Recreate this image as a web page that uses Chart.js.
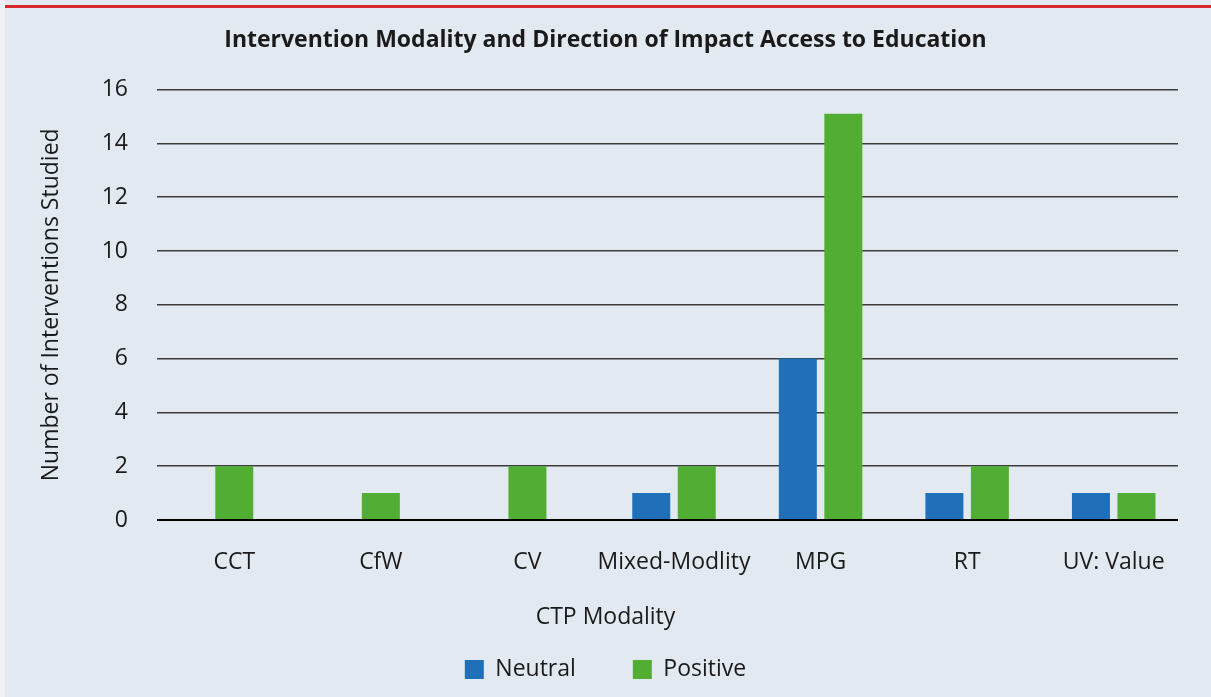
<!DOCTYPE html>
<html>
<head>
<meta charset="utf-8">
<script src="https://cdn.jsdelivr.net/npm/chart.js@4"></script>
<style>
  html, body { margin: 0; padding: 0; background: #e2e9f0; }
  #wrap { width: 1211px; height: 697px; position: relative; }
</style>
</head>
<body>
<div id="wrap"><canvas id="c" width="1211" height="697"></canvas></div>
<script>
const categories = ['CCT', 'CfW', 'CV', 'Mixed-Modlity', 'MPG', 'RT', 'UV: Value'];
const neutralValues = [null, null, null, 1, 6, 1, 1];
const positiveValues = [2, 1, 2, 2, 15.1, 2, 1];
const yTicks = [0, 2, 4, 6, 8, 10, 12, 14, 16];

const FONT = "'Open Sans', 'DejaVu Sans', sans-serif";
const TXT = '#1a1a1a';

const bgPlugin = {
  id: 'bg',
  beforeDraw(chart) {
    const ctx = chart.ctx;
    ctx.save();
    ctx.fillStyle = '#e2e9f0';
    ctx.fillRect(0, 0, chart.width, chart.height);
    ctx.fillStyle = '#eef2f6';
    ctx.fillRect(0, 0, 5, chart.height);
    ctx.fillStyle = '#d7262e';
    ctx.fillRect(5, 5, chart.width - 5, 3);
    ctx.restore();
  }
};

// The category band in the reference runs slightly wider than the gridlines.
const catBandPlugin = {
  id: 'catBand',
  afterLayout(chart) {
    const x = chart.scales.x;
    x.left = 161;
    x.right = 1187;
    x.width = x.right - x.left;
    x.configure();
  }
};

new Chart(document.getElementById('c'), {
  type: 'bar',
  data: {
    labels: categories,
    datasets: [
      { label: 'Neutral', data: neutralValues, backgroundColor: '#1f70b8', borderWidth: 0 },
      { label: 'Positive', data: positiveValues, backgroundColor: '#52ae33', borderWidth: 0 }
    ]
  },
  options: {
    responsive: false,
    animation: false,
    devicePixelRatio: 1,
    skipNull: true,
    categoryPercentage: 0.621,
    barPercentage: 0.835,
    maxBarThickness: 38,
    layout: { padding: { left: 0, right: 0, top: 0, bottom: 6 } },
    plugins: {
      title: {
        display: true,
        text: 'Intervention Modality and Direction of Impact Access to Education',
        color: TXT,
        font: { family: FONT, size: 23, weight: 'bold' },
        padding: { top: 27, bottom: 35 }
      },
      subtitle: {
        display: true,
        position: 'bottom',
        weight: 500,
        text: 'CTP Modality',
        color: TXT,
        font: { family: FONT, size: 23 },
        padding: { top: 22, bottom: -30.6 }
      },
      legend: {
        position: 'bottom',
        weight: 1000,
        labels: {
          color: TXT,
          font: { family: FONT, size: 23 },
          boxWidth: 19,
          boxHeight: 19,
          padding: 57
        }
      },
      tooltip: { enabled: false }
    },
    scales: {
      x: {
        grid: { display: false, drawTicks: false },
        border: { display: false },
        ticks: { color: TXT, font: { family: FONT, size: 23 }, padding: 29, maxRotation: 0, autoSkip: false },
        afterFit(s) { s.height = 62; }
      },
      y: {
        min: 0,
        max: 16,
        afterBuildTicks(s) { s.ticks = yTicks.map(v => ({ value: v })); },
        grid: {
          drawTicks: false,
          color: ctx => ctx.tick && ctx.tick.value === 0 ? '#000000' : '#3c3c3c',
          lineWidth: ctx => ctx.tick && ctx.tick.value === 0 ? 2 : 1.5
        },
        border: { display: false },
        ticks: { color: TXT, font: { family: FONT, size: 23 }, padding: 29 },
        title: {
          display: true,
          text: 'Number of Interventions Studied',
          color: TXT,
          font: { family: FONT, size: 23 },
          padding: { top: 38, bottom: 0 }
        },
        afterFit(s) { s.width = 157; }
      },
      y2: {
        position: 'right',
        display: true,
        grid: { display: false, drawTicks: false },
        border: { display: false },
        ticks: { display: false },
        afterFit(s) { s.width = 33; }
      }
    }
  },
  plugins: [bgPlugin, catBandPlugin]
});
</script>
</body>
</html>
